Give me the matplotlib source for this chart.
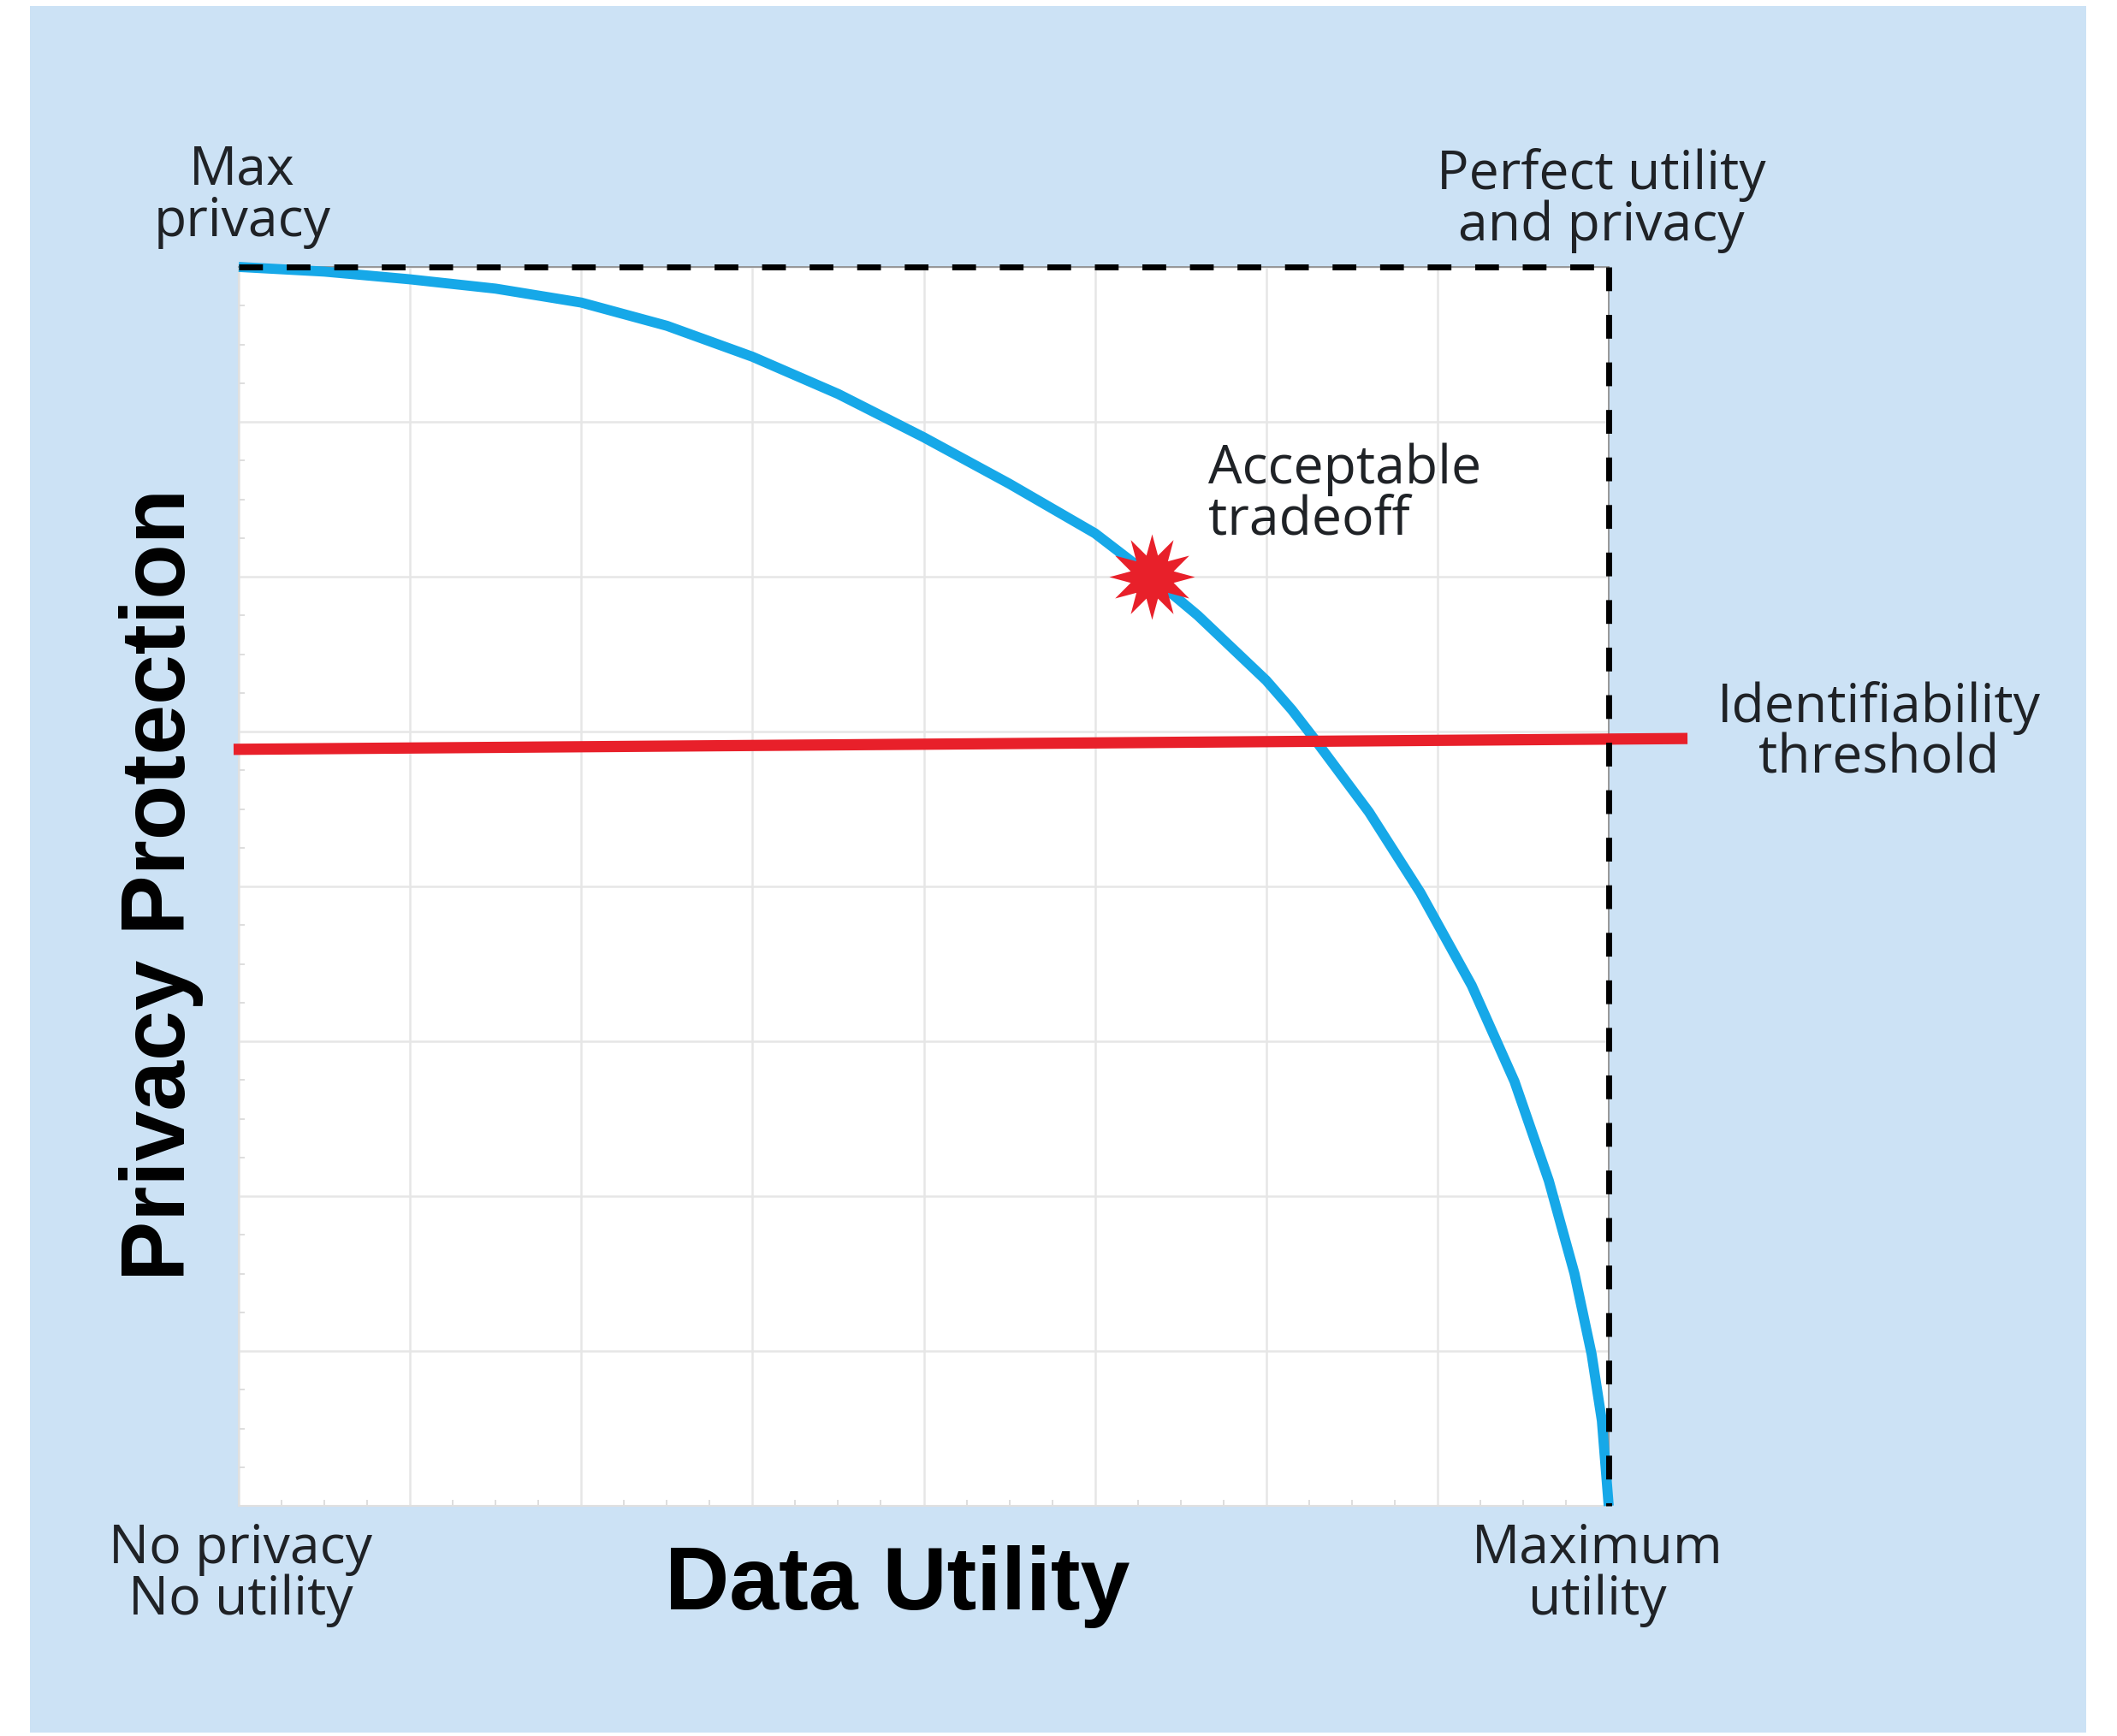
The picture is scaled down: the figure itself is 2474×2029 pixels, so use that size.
import numpy as np
import matplotlib

matplotlib.use("Agg")
import matplotlib.pyplot as plt
from matplotlib.patches import Rectangle

# ---------------------------------------------------------------------------
# Data (grid units, 8 x 8 box)
# ---------------------------------------------------------------------------
utility = [0.0, 0.5, 1.0, 1.5, 2.0, 2.5, 3.0, 3.5, 4.0, 4.5, 5.0, 5.33,
           5.6, 6.0, 6.15, 6.29, 6.6, 6.9, 7.2, 7.45, 7.65, 7.8, 7.9,
           7.96, 8.0]
privacy = [8.0, 7.97, 7.92, 7.86, 7.77, 7.62, 7.42, 7.18, 6.90, 6.60, 6.28,
           6.0, 5.75, 5.33, 5.14, 4.94, 4.48, 3.96, 3.36, 2.74, 2.10, 1.50,
           0.98, 0.55, 0.0]

tradeoff_x = [5.33]
tradeoff_y = [6.0]

threshold_x = [-0.03, 8.46]
threshold_y = [4.885, 4.955]

W, H = 2474, 2029
BLUE_BG = "#cce2f5"
CURVE = "#16a8e8"
RED = "#e8202a"
TXT = "#1f2226"


def fx(px):
    return px / W


def fy(py):
    return 1 - py / H


def burst(n=12, inner=0.52):
    ang = np.linspace(0, 2 * np.pi, 2 * n, endpoint=False) + np.pi / 2
    r = np.where(np.arange(2 * n) % 2 == 0, 1.0, inner)
    return list(zip(r * np.cos(ang), r * np.sin(ang)))


fig = plt.figure(figsize=(W / 100, H / 100), dpi=100)
fig.patch.set_facecolor("white")

# light blue panel behind everything
bg = fig.add_axes([0, 0, 1, 1], zorder=-5)
bg.set_axis_off()
bg.set_xlim(0, 1)
bg.set_ylim(0, 1)
bg.add_patch(Rectangle((fx(35), fy(2025)), fx(2438 - 35), (2025 - 7) / H,
                       facecolor=BLUE_BG, edgecolor="none"))

ax = fig.add_axes([fx(279), fy(1760), fx(1880 - 279), (1760 - 312) / H],
                  zorder=1)
ax.set_facecolor("white")
ax.set_xlim(0, 8)
ax.set_ylim(0, 8)
ax.set_xticks(np.arange(0, 9, 1))
ax.set_yticks(np.arange(0, 9, 1))
ax.set_xticks(np.arange(0, 8.01, 0.25), minor=True)
ax.set_yticks(np.arange(0, 8.01, 0.25), minor=True)
ax.tick_params(which="both", labelbottom=False, labelleft=False,
               direction="in", color="#d8d8d8")
ax.tick_params(which="major", length=0)
ax.tick_params(which="minor", length=5, width=1.2)
ax.grid(True, which="major", color="#e6e6e6", linewidth=1.8)
ax.set_axisbelow(True)
for side in ["left", "bottom"]:
    ax.spines[side].set_color("#e0e0e0")
    ax.spines[side].set_linewidth(1.5)
for side in ["top", "right"]:
    ax.spines[side].set_color("#8a8a8a")
    ax.spines[side].set_linewidth(1.2)

# frontier curve
ax.plot(utility, privacy, color=CURVE, linewidth=8.5, solid_capstyle="butt",
        solid_joinstyle="round", zorder=3, clip_on=False)

# identifiability threshold
ax.plot(threshold_x, threshold_y, color=RED, linewidth=9.5,
        solid_capstyle="butt", zorder=4, clip_on=False)

# dashed bounds (perfect utility and privacy)
ax.plot([0, 8], [8, 8], color="black", linewidth=5, dashes=(4, 4),
        zorder=5, clip_on=False)
ax.plot([8, 8], [8, 0], color="black", linewidth=5, dashes=(4, 4),
        zorder=5, clip_on=False)

# acceptable tradeoff marker
ax.plot(tradeoff_x, tradeoff_y, marker=burst(), markersize=72,
        color=RED, markeredgewidth=0, linestyle="none", zorder=6)

reg = dict(family="Open Sans", fontsize=45, color=TXT, linespacing=0.95)
fig.text(fx(283), fy(276), "Max\nprivacy", ha="center", va="baseline", **reg)
fig.text(fx(1871), fy(281), "Perfect utility\nand privacy", ha="center",
         va="baseline", **reg)
fig.text(fx(1412), fy(625), "Acceptable\ntradeoff", ha="left",
         va="baseline", **reg)
fig.text(fx(2196), fy(904), "Identifiability\nthreshold", ha="center",
         va="baseline", **reg)
fig.text(fx(281), fy(1887), "No privacy\nNo utility", ha="center",
         va="baseline", **reg)
fig.text(fx(1867), fy(1887), "Maximum\nutility", ha="center",
         va="baseline", **reg)

bold = dict(family="Liberation Sans", fontweight="bold", color="black")
fig.text(fx(1049), fy(1881), "Data Utility", ha="center", va="baseline",
         fontsize=75, **bold)
fig.text(fx(189), fy(1034), "Privacy Protection", ha="center", va="center",
         rotation=90, fontsize=76, **bold)

fig.savefig("out.png", dpi=100)
